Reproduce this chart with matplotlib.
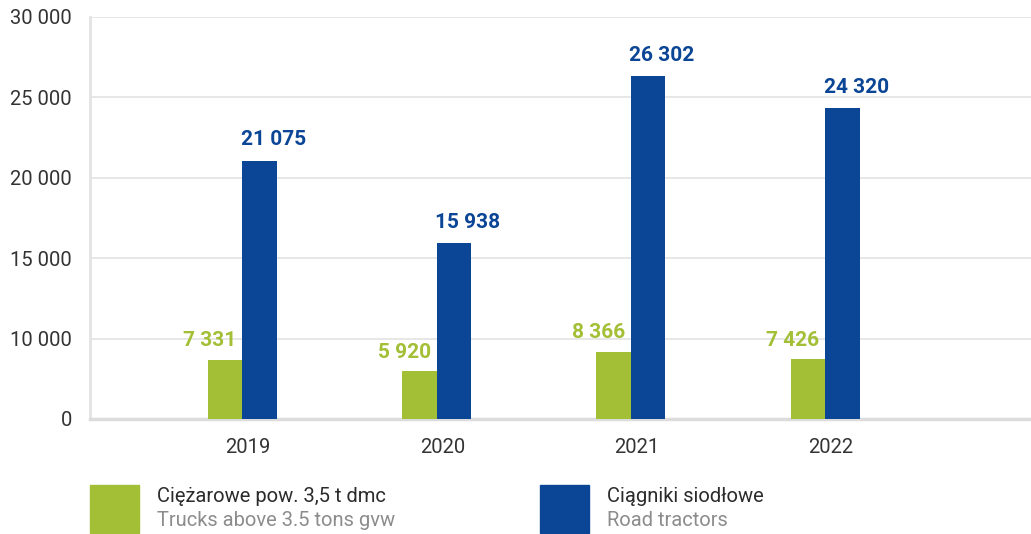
import numpy as np
import matplotlib.pyplot as plt
from matplotlib.patches import Rectangle

years = ["2019", "2020", "2021", "2022"]
trucks = [7331, 5920, 8366, 7426]
tractors = [21075, 15938, 26302, 24320]
yticks = [0, 10000, 15000, 20000, 25000, 30000]

label_pl = ["Ciężarowe pow. 3,5 t dmc", "Ciągniki siodłowe"]
label_en = ["Trucks above 3.5 tons gvw", "Road tractors"]

GREEN = "#a2bf35"
BLUE = "#0b4595"
GRID = "#e3e3e3"

plt.rcParams["font.family"] = ["Roboto", "DejaVu Sans"]


def fmt(v):
    # thousands separated by a space
    return f"{v:,}".replace(",", " ")


# first band (0-10 000) is squeezed to the same height as the 5 000 steps above it
def fwd(y):
    y = np.asarray(y, dtype=float)
    return np.where(y < 10000, y / 2, y - 5000)


def inv(t):
    t = np.asarray(t, dtype=float)
    return np.where(t < 5000, t * 2, t + 5000)


fig = plt.figure(figsize=(10.31, 5.34), dpi=100)
ax = fig.add_axes([90 / 1031, 115 / 534, 941 / 1031, 402 / 534])
ax.set_yscale("function", functions=(fwd, inv))

x = np.arange(len(years))
w = 0.178
ax.bar(x - w / 2, trucks, width=w, color=GREEN, zorder=3)
ax.bar(x + w / 2, tractors, width=w, color=BLUE, zorder=3)

for xi, v in zip(x, trucks):
    ax.annotate(fmt(v), (xi - w / 2, v), xytext=(-11, 7), textcoords="offset points",
                ha="center", va="bottom", color=GREEN, fontsize=15, fontweight="bold")
for xi, v in zip(x, tractors):
    ax.annotate(fmt(v), (xi + w / 2, v), xytext=(10, 8), textcoords="offset points",
                ha="center", va="bottom", color=BLUE, fontsize=15, fontweight="bold")

ax.set_xlim(-0.785, 4.06)
ax.set_ylim(0, 30000)
ax.set_yticks(yticks)
ax.set_yticklabels([fmt(t) for t in yticks])
ax.minorticks_off()
ax.set_xticks(x + 0.03)
ax.set_xticklabels(years)
ax.tick_params(axis="both", length=0, labelsize=14.5, labelcolor="#333333")
ax.tick_params(axis="y", pad=13)
ax.tick_params(axis="x", pad=14)

ax.grid(axis="y", color=GRID, linewidth=1.2, zorder=0)
for side in ["top", "right"]:
    ax.spines[side].set_visible(False)
ax.spines["left"].set_color(GRID)
ax.spines["left"].set_linewidth(2)
ax.spines["bottom"].set_color("#dcdcdc")
ax.spines["bottom"].set_linewidth(2.5)

# legend drawn by hand in figure pixels
colors = [GREEN, BLUE]
box_x = [90, 540]
for bx, c, pl, en in zip(box_x, colors, label_pl, label_en):
    fig.add_artist(Rectangle((bx / 1031, 1 / 534), 49 / 1031, 48 / 534,
                             transform=fig.transFigure, color=c))
    fig.text((bx + 67) / 1031, (534 - 497) / 534, pl, fontsize=14.5,
             color="#2b2b2b", va="center", ha="left")
    fig.text((bx + 67) / 1031, (534 - 521) / 534, en, fontsize=14.5,
             color="#8c8c8c", va="center", ha="left")

fig.savefig("out.png", dpi=100)
